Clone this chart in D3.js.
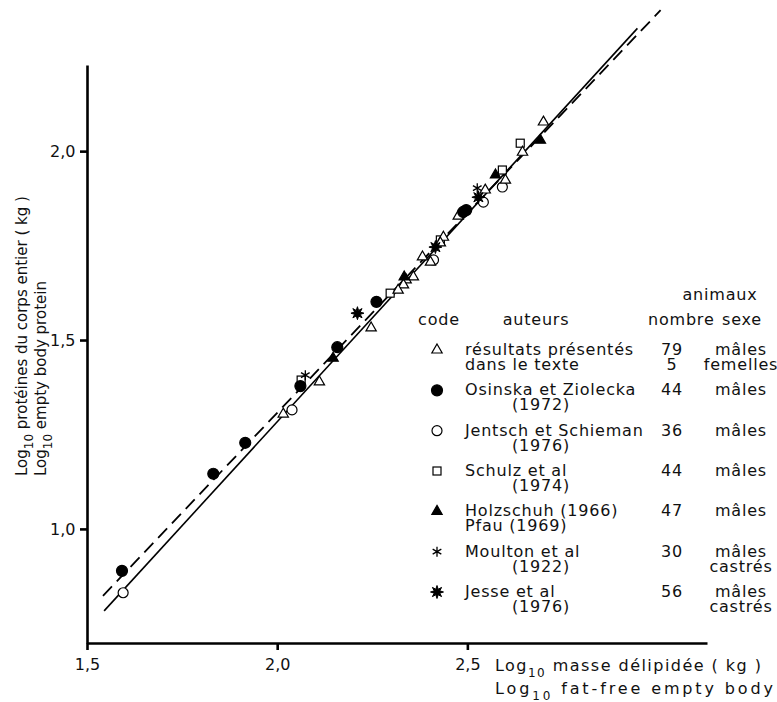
<!DOCTYPE html>
<html>
<head>
<meta charset="utf-8">
<script src="https://cdn.jsdelivr.net/npm/d3@7"></script>
<style>
  body { margin: 0; background: #fff; }
  svg text { font-family: "DejaVu Sans", sans-serif; fill: #111; }
</style>
</head>
<body>
<div id="chart"></div>
<script>
/* ------------------------------------------------------------------
 Log10 body protein vs log10 fat-free empty body (pigs).
 Values, one pair of arrays per source.
 -------------------------------------------------------------------- */

var w = 777,
	h = 702;

// resultats presentes dans le texte (open triangles)
var resultatsX = [2.700, 2.645, 2.600, 2.547, 2.476, 2.437, 2.429, 2.403, 2.382, 2.358, 2.339, 2.332, 2.318, 2.247, 2.111, 2.016];
var resultatsY = [2.077, 1.997, 1.923, 1.897, 1.828, 1.772, 1.757, 1.706, 1.720, 1.667, 1.659, 1.646, 1.632, 1.532, 1.389, 1.304];

// Osinska et Ziolecka 1972 (filled circles)
var osinskaX = [1.592, 1.832, 1.916, 2.061, 2.158, 2.261, 2.489, 2.497];
var osinskaY = [0.889, 1.146, 1.228, 1.378, 1.481, 1.601, 1.839, 1.844];

// Jentsch et Schieman 1976 (open circles)
var jentschX = [1.595, 2.039, 2.411, 2.542, 2.592];
var jentschY = [0.831, 1.315, 1.712, 1.865, 1.905];

// Schulz et al 1974 (open squares)
var schulzX = [2.063, 2.297, 2.429, 2.592, 2.639];
var schulzY = [1.394, 1.624, 1.765, 1.950, 2.021];

// Holzschuh 1966 / Pfau 1969 (filled triangles)
var holzschuhX = [2.147, 2.334, 2.574, 2.692];
var holzschuhY = [1.452, 1.667, 1.937, 2.029];

// Moulton et al 1922 (asterisks)
var moultonX = [2.074, 2.526];
var moultonY = [1.407, 1.902];

// Jesse et al 1976 (filled bursts)
var jesseX = [2.211, 2.416, 2.529];
var jesseY = [1.571, 1.746, 1.878];

// regression lines: end points [x, y]
var solidLine = [[1.545, 0.783], [2.947, 2.325]];
var dashedLine = [[1.542, 0.823], [3.008, 2.373]];

// axes
var xTicks = [1.5, 2.0, 2.5];
var yTicks = [1.0, 1.5, 2.0];

// legend table
var legendCodes = ["triOpen", "circleFilled", "circleOpen", "squareOpen", "triFilled", "asterisk", "burst"];
var legendAuteurs = [
	["résultats présentés", "dans le texte"],
	["Osinska et Ziolecka", "(1972)"],
	["Jentsch et Schieman", "(1976)"],
	["Schulz et al", "(1974)"],
	["Holzschuh (1966)", "Pfau (1969)"],
	["Moulton et al", "(1922)"],
	["Jesse et al", "(1976)"]
];
var legendNombre = [["79", "5"], ["44"], ["36"], ["44"], ["47"], ["30"], ["56"]];
var legendSexe = [["mâles", "femelles"], ["mâles"], ["mâles"], ["mâles"], ["mâles"], ["mâles", "castrés"], ["mâles", "castrés"]];

/* ------------------------------------------------------------------
 scales
 -------------------------------------------------------------------- */

var x = d3.scaleLinear().domain([1.5, 3.13]).range([87, 707]);
var y = d3.scaleLinear().domain([0.698, 2.228]).range([643, 65]);

var svg = d3.select("#chart")
	.append("svg")
	.attr("width", w)
	.attr("height", h);

var comma = function(d){ return d.toFixed(1).replace(".", ","); };

/* ------------------------------------------------------------------
 fitted lines
 -------------------------------------------------------------------- */

var line = d3.line()
	.x(function(d){ return x(d[0]); })
	.y(function(d){ return y(d[1]); });

svg.append("path")
	.attr("d", line(solidLine))
	.attr("fill", "none")
	.attr("stroke", "#000")
	.attr("stroke-width", 1.6);

svg.append("path")
	.attr("d", line(dashedLine))
	.attr("fill", "none")
	.attr("stroke", "#000")
	.attr("stroke-width", 1.8)
	.attr("stroke-dasharray", "13,7");

/* ------------------------------------------------------------------
 axes
 -------------------------------------------------------------------- */

var xAxis = svg.append("g")
	.attr("transform", "translate(0," + y.range()[0] + ")")
	.call(d3.axisBottom(x).tickValues(xTicks).tickFormat(comma).tickSize(7).tickSizeOuter(0));

var yAxis = svg.append("g")
	.attr("transform", "translate(" + x.range()[0] + ",0)")
	.call(d3.axisLeft(y).tickValues(yTicks).tickFormat(comma).tickSize(7).tickSizeOuter(0));

[xAxis, yAxis].forEach(function(g){
	g.select(".domain").attr("stroke", "#000").attr("stroke-width", 2.6);
	g.selectAll(".tick line").attr("stroke", "#000").attr("stroke-width", 2.6);
	g.selectAll(".tick text").attr("font-size", 16).attr("fill", "#111")
		.attr("font-family", "DejaVu Sans");
});
xAxis.selectAll(".tick text").attr("dy", "1.05em");
yAxis.selectAll(".tick text").attr("dx", "-0.1em");

// axis titles (two languages, subscript 10), stretched to the width of the scan
function logTitle(sel, rest){
	sel.append("tspan").text("Log");
	sel.append("tspan").attr("font-size", 12).attr("dy", 6).text("10");
	sel.append("tspan").attr("dy", -6).text(" " + rest);
}

svg.append("text").attr("x", 495).attr("y", 671).attr("font-size", 16)
	.attr("textLength", 266).attr("lengthAdjust", "spacing")
	.call(logTitle, "masse délipidée ( kg )");
svg.append("text").attr("x", 495).attr("y", 694).attr("font-size", 16)
	.attr("textLength", 278).attr("lengthAdjust", "spacing")
	.call(logTitle, "fat-free  empty  body");

svg.append("text").attr("transform", "translate(27,476) rotate(-90)").attr("font-size", 15)
	.call(logTitle, "protéines du corps entier ( kg )");
svg.append("text").attr("transform", "translate(46,476) rotate(-90)").attr("font-size", 15)
	.call(logTitle, "empty  body  protein");

/* ------------------------------------------------------------------
 marker shapes
 -------------------------------------------------------------------- */

var burstPts = d3.range(16).map(function(i){ return [i * Math.PI / 8, i % 2 ? 3 : 6.5]; });
var burstPath = d3.lineRadial().curve(d3.curveLinearClosed)(burstPts);

function drawMarker(g, code){
	if (code === "triOpen" || code === "triFilled") {
		g.append("path").attr("d", d3.symbol(d3.symbolTriangle, 46)())
			.attr("fill", code === "triFilled" ? "#000" : "#fff")
			.attr("stroke", "#000").attr("stroke-width", 1.2);
	} else if (code === "circleFilled" || code === "circleOpen") {
		g.append("circle").attr("r", code === "circleFilled" ? 5.5 : 5)
			.attr("fill", code === "circleFilled" ? "#000" : "#fff")
			.attr("stroke", "#000").attr("stroke-width", 1.2);
	} else if (code === "squareOpen") {
		g.append("rect").attr("x", -4).attr("y", -4).attr("width", 8).attr("height", 8)
			.attr("fill", "#fff").attr("stroke", "#000").attr("stroke-width", 1.2);
	} else if (code === "asterisk") {
		g.append("path").attr("d", d3.symbol(d3.symbolAsterisk, 70)())
			.attr("fill", "none").attr("stroke", "#000").attr("stroke-width", 1.3);
	} else if (code === "burst") {
		g.append("path").attr("d", burstPath).attr("fill", "#000").attr("stroke", "#000");
	}
}

/* ------------------------------------------------------------------
 data points, one group per source
 -------------------------------------------------------------------- */

var series = [
	{code: "circleOpen", xs: jentschX, ys: jentschY},
	{code: "squareOpen", xs: schulzX, ys: schulzY},
	{code: "triOpen", xs: resultatsX, ys: resultatsY},
	{code: "circleFilled", xs: osinskaX, ys: osinskaY},
	{code: "triFilled", xs: holzschuhX, ys: holzschuhY},
	{code: "asterisk", xs: moultonX, ys: moultonY},
	{code: "burst", xs: jesseX, ys: jesseY}
];

series.forEach(function(s){
	svg.append("g").selectAll("g.pt")
		.data(s.xs)
		.enter()
		.append("g")
		.classed("pt", true)
		.attr("transform", function(d, i){ return "translate(" + x(d) + "," + y(s.ys[i]) + ")"; })
		.each(function(){ drawMarker(d3.select(this), s.code); });
});

/* ------------------------------------------------------------------
 legend table
 -------------------------------------------------------------------- */

var leg = svg.append("g").attr("font-size", 16).attr("letter-spacing", 0.8);

leg.append("text").attr("x", 720).attr("y", 300).attr("text-anchor", "middle").text("animaux");
leg.append("text").attr("x", 439).attr("y", 325).attr("text-anchor", "middle").text("code");
leg.append("text").attr("x", 536).attr("y", 325).attr("text-anchor", "middle").text("auteurs");
leg.append("text").attr("x", 648).attr("y", 325).text("nombre");
leg.append("text").attr("x", 742).attr("y", 325).attr("text-anchor", "middle").text("sexe");

var rowY = d3.scalePoint().domain(d3.range(legendCodes.length)).range([350, 592]);

legendCodes.forEach(function(code, i){
	var ry = rowY(i);
	var m = leg.append("g").attr("transform", "translate(437," + ry + ")");
	drawMarker(m, code);

	legendAuteurs[i].forEach(function(t, j){
		leg.append("text")
			.attr("x", j && t.charAt(0) === "(" ? 512 : 465)
			.attr("y", ry + 5 + j * 15)
			.text(t);
	});
	legendNombre[i].forEach(function(t, j){
		leg.append("text").attr("x", 672).attr("y", ry + 5 + j * 15)
			.attr("text-anchor", "middle").text(t);
	});
	legendSexe[i].forEach(function(t, j){
		leg.append("text").attr("x", 741).attr("y", ry + 5 + j * 15)
			.attr("text-anchor", "middle").text(t);
	});
});
</script>
</body>
</html>
